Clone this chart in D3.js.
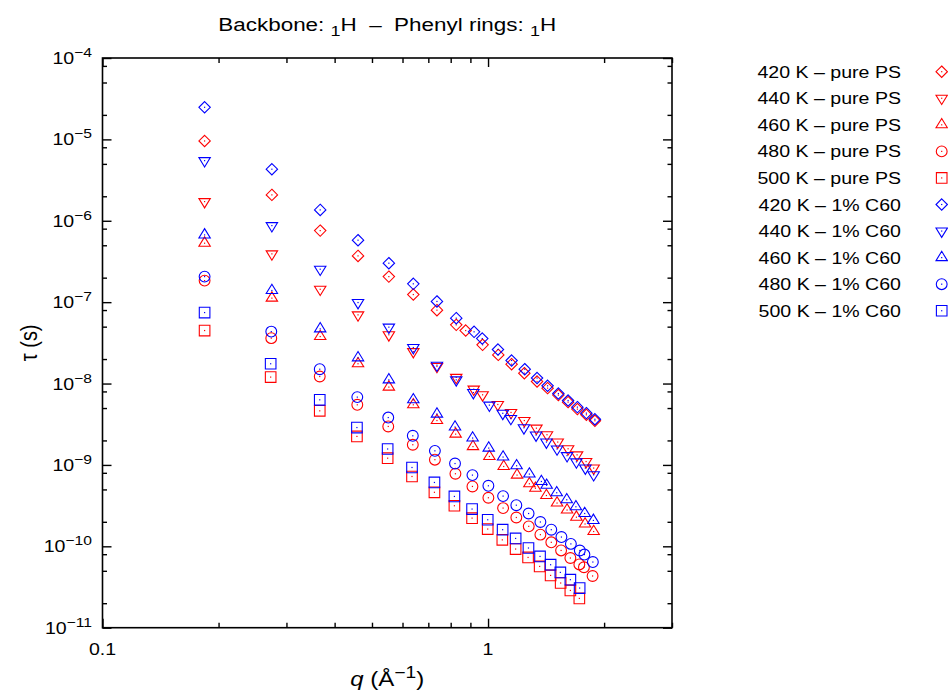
<!DOCTYPE html>
<html>
<head>
<meta charset="utf-8">
<script src="https://cdn.jsdelivr.net/npm/d3@7/dist/d3.min.js"></script>
<style>
  body { margin: 0; background: #fff; }
  text { font-family: "Liberation Sans", Arial, Helvetica, sans-serif; fill: #000; }
</style>
</head>
<body>
<div id="chart"></div>
<script>
// q (1/Å) and tau (s), one pair of arrays per data set
const q420PS = [0.184, 0.275, 0.367, 0.460, 0.553, 0.640, 0.737, 0.827, 0.875, 0.968, 1.063, 1.151, 1.242, 1.340, 1.427, 1.522, 1.613, 1.705, 1.799, 1.893];
const tau420PS = [9.56e-6, 2.08e-6, 7.57e-7, 3.70e-7, 2.06e-7, 1.24e-7, 7.97e-8, 5.26e-8, 4.48e-8, 2.99e-8, 2.25e-8, 1.73e-8, 1.34e-8, 1.06e-8, 8.78e-9, 7.21e-9, 5.91e-9, 4.85e-9, 4.13e-9, 3.49e-9];

const q440PS = [0.184, 0.275, 0.367, 0.460, 0.553, 0.640, 0.737, 0.827, 0.918, 0.968, 1.060, 1.147, 1.242, 1.335, 1.422, 1.516, 1.613, 1.702, 1.796, 1.879];
const tau440PS = [1.72e-6, 3.92e-7, 1.44e-7, 6.98e-8, 3.97e-8, 2.47e-8, 1.62e-8, 1.19e-8, 8.54e-9, 7.27e-9, 5.53e-9, 4.41e-9, 3.51e-9, 2.83e-9, 2.35e-9, 1.91e-9, 1.58e-9, 1.33e-9, 1.10e-9, 9.15e-10];

const q460PS = [0.184, 0.275, 0.367, 0.460, 0.553, 0.640, 0.737, 0.824, 0.914, 1.008, 1.098, 1.189, 1.280, 1.327, 1.417, 1.510, 1.603, 1.695, 1.785, 1.879];
const tau460PS = [5.30e-7, 1.12e-7, 3.78e-8, 1.75e-8, 9.04e-9, 5.48e-9, 3.51e-9, 2.39e-9, 1.68e-9, 1.27e-9, 9.57e-10, 7.50e-10, 5.87e-10, 5.17e-10, 4.21e-10, 3.40e-10, 2.79e-10, 2.28e-10, 1.88e-10, 1.52e-10];

const q480PS = [0.184, 0.274, 0.366, 0.458, 0.551, 0.638, 0.728, 0.823, 0.911, 1.002, 1.094, 1.184, 1.275, 1.367, 1.459, 1.547, 1.635, 1.725, 1.773, 1.867];
const tau480PS = [1.84e-7, 3.61e-8, 1.22e-8, 5.48e-9, 2.97e-9, 1.77e-9, 1.16e-9, 7.79e-10, 5.44e-10, 3.95e-10, 2.95e-10, 2.26e-10, 1.76e-10, 1.39e-10, 1.12e-10, 8.90e-11, 7.18e-11, 5.99e-11, 5.53e-11, 4.32e-11];

const q500PS = [0.184, 0.273, 0.366, 0.457, 0.549, 0.635, 0.726, 0.818, 0.909, 0.998, 1.089, 1.179, 1.270, 1.361, 1.453, 1.543, 1.635, 1.725];
const tau500PS = [4.48e-8, 1.20e-8, 4.62e-9, 2.24e-9, 1.21e-9, 7.21e-10, 4.61e-10, 3.15e-10, 2.22e-10, 1.63e-10, 1.20e-10, 9.26e-11, 7.30e-11, 5.66e-11, 4.39e-11, 3.54e-11, 2.87e-11, 2.29e-11];

const q420C60 = [0.184, 0.275, 0.367, 0.460, 0.553, 0.640, 0.737, 0.827, 0.920, 0.966, 1.061, 1.151, 1.245, 1.340, 1.427, 1.522, 1.613, 1.705, 1.799, 1.893];
const tau420C60 = [2.48e-5, 4.30e-6, 1.36e-6, 5.77e-7, 3.01e-7, 1.68e-7, 1.02e-7, 6.36e-8, 4.32e-8, 3.57e-8, 2.62e-8, 1.92e-8, 1.50e-8, 1.17e-8, 9.38e-9, 7.54e-9, 6.19e-9, 5.13e-9, 4.33e-9, 3.64e-9];

const q440C60 = [0.184, 0.275, 0.367, 0.460, 0.553, 0.640, 0.737, 0.827, 0.916, 1.008, 1.092, 1.146, 1.239, 1.332, 1.417, 1.510, 1.603, 1.695, 1.788, 1.879];
const tau440C60 = [5.48e-6, 8.72e-7, 2.54e-7, 9.89e-8, 4.93e-8, 2.77e-8, 1.68e-8, 1.11e-8, 7.75e-9, 5.43e-9, 4.31e-9, 3.72e-9, 2.86e-9, 2.33e-9, 1.91e-9, 1.57e-9, 1.30e-9, 1.09e-9, 9.15e-10, 7.57e-10];

const q460C60 = [0.184, 0.275, 0.367, 0.460, 0.553, 0.640, 0.737, 0.821, 0.912, 1.004, 1.094, 1.186, 1.280, 1.375, 1.419, 1.507, 1.600, 1.690, 1.781, 1.876];
const tau460C60 = [6.70e-7, 1.39e-7, 4.70e-8, 2.07e-8, 1.11e-8, 6.31e-9, 4.21e-9, 2.92e-9, 2.14e-9, 1.61e-9, 1.25e-9, 9.76e-10, 7.72e-10, 6.26e-10, 5.62e-10, 4.55e-10, 3.73e-10, 3.06e-10, 2.53e-10, 2.08e-10];

const q480C60 = [0.184, 0.274, 0.366, 0.458, 0.551, 0.638, 0.728, 0.821, 0.911, 1.002, 1.094, 1.184, 1.274, 1.367, 1.459, 1.550, 1.640, 1.730, 1.778, 1.870];
const tau480C60 = [2.06e-7, 4.35e-8, 1.50e-8, 6.81e-9, 3.82e-9, 2.28e-9, 1.49e-9, 1.04e-9, 7.50e-10, 5.54e-10, 4.14e-10, 3.20e-10, 2.53e-10, 1.99e-10, 1.60e-10, 1.30e-10, 1.07e-10, 8.88e-11, 7.92e-11, 6.41e-11];

const q500C60 = [0.184, 0.273, 0.366, 0.457, 0.549, 0.635, 0.726, 0.818, 0.909, 0.998, 1.091, 1.179, 1.273, 1.364, 1.453, 1.540, 1.635, 1.728];
const tau500C60 = [7.45e-8, 1.75e-8, 6.31e-9, 2.88e-9, 1.57e-9, 9.30e-10, 6.09e-10, 4.10e-10, 2.87e-10, 2.12e-10, 1.60e-10, 1.25e-10, 9.53e-11, 7.51e-11, 5.94e-11, 4.78e-11, 3.89e-11, 3.07e-11];

const legendLabels = [
  "420 K – pure PS", "440 K – pure PS", "460 K – pure PS", "480 K – pure PS", "500 K – pure PS",
  "420 K – 1% C60", "440 K – 1% C60", "460 K – 1% C60", "480 K – 1% C60", "500 K – 1% C60"
];
const xTickValues = [0.1, 1];
const yExponents = [-11, -10, -9, -8, -7, -6, -5, -4];

// Layout
const W = 948, H = 693;
const margin = { top: 58, right: 276, bottom: 65.3, left: 102.5 };
const width = W - margin.left - margin.right;
const height = H - margin.top - margin.bottom;
const SX = 1.2;   // text in the original is drawn wide
const FS = 16.3;

// marker shapes, centred on the data point
const shapes = {
  diamond: "M0,-5.7L5.7,0L0,5.7L-5.7,0Z",
  down: "M-5.7,-3L5.7,-3L0,6.3Z",
  up: "M0,-6.3L5.7,3L-5.7,3Z",
  circle: "M5.4,0A5.4,5.4 0 1,1 -5.4,0A5.4,5.4 0 1,1 5.4,0Z",
  square: "M-5.3,-5.3H5.3V5.3H-5.3Z"
};

const series = [
  { q: q420PS, tau: tau420PS, color: "#ff0000", shape: "diamond" },
  { q: q440PS, tau: tau440PS, color: "#ff0000", shape: "down" },
  { q: q460PS, tau: tau460PS, color: "#ff0000", shape: "up" },
  { q: q480PS, tau: tau480PS, color: "#ff0000", shape: "circle" },
  { q: q500PS, tau: tau500PS, color: "#ff0000", shape: "square" },
  { q: q420C60, tau: tau420C60, color: "#0000ff", shape: "diamond" },
  { q: q440C60, tau: tau440C60, color: "#0000ff", shape: "down" },
  { q: q460C60, tau: tau460C60, color: "#0000ff", shape: "up" },
  { q: q480C60, tau: tau480C60, color: "#0000ff", shape: "circle" },
  { q: q500C60, tau: tau500C60, color: "#0000ff", shape: "square" }
].map((s, i) => ({ ...s, label: legendLabels[i], points: s.q.map((v, j) => ({ q: v, tau: s.tau[j] })) }));

// Scales
const x = d3.scaleLog().domain([0.1, 3]).range([0, width]);
const y = d3.scaleLog().domain([1e-11, 1e-4]).range([height, 0]);

const svg = d3.select("#chart")
  .append("svg")
    .attr("width", W)
    .attr("height", H);

// text helper: stretched horizontally like the original
function addText(parent, px, py, anchor, size, extra) {
  return parent.append("text")
    .attr("transform", `translate(${px},${py}) scale(${SX},1)${extra || ""}`)
    .attr("text-anchor", anchor)
    .attr("xml:space", "preserve")
    .style("white-space", "pre")
    .style("font-size", size + "px");
}

// Title (a bit larger than the other text)
const TFS = 18.7;
const title = addText(svg, margin.left + width / 2, 31, "middle", TFS);
title.append("tspan").text("Backbone: ");
title.append("tspan").attr("dy", 4.5).style("font-size", (TFS * 0.8) + "px").text("1");
title.append("tspan").attr("dy", -4.5).text("H  –  Phenyl rings: ");
title.append("tspan").attr("dy", 4.5).style("font-size", (TFS * 0.8) + "px").text("1");
title.append("tspan").attr("dy", -4.5).text("H");

const chart = svg.append("g")
    .attr("transform", `translate(${margin.left},${margin.top})`);

// minor tick values
const xMinor = [];
[0.1, 1].forEach(d => { for (let k = 2; k <= 9; k++) if (d * k < 3.0001) xMinor.push(d * k); });
const yMinor = [];
yExponents.slice(0, -1).forEach(e => [2, 5, 8].forEach(k => yMinor.push(k * Math.pow(10, e))));

const tickStyle = g => {
  g.select(".domain").remove();
  g.selectAll("line").attr("stroke", "#000").attr("stroke-width", 1.4);
  g.selectAll("text").remove();
};

// ticks on all four sides, pointing inwards
chart.append("g").attr("transform", `translate(0,${height})`)
  .call(d3.axisBottom(x).tickValues(xTickValues).tickSize(-9).tickFormat("")).call(tickStyle);
chart.append("g").attr("transform", `translate(0,${height})`)
  .call(d3.axisBottom(x).tickValues(xMinor).tickSize(-5).tickFormat("")).call(tickStyle);
chart.append("g")
  .call(d3.axisTop(x).tickValues(xTickValues).tickSize(-9).tickFormat("")).call(tickStyle);
chart.append("g")
  .call(d3.axisTop(x).tickValues(xMinor).tickSize(-5).tickFormat("")).call(tickStyle);

const yMajor = yExponents.map(e => Math.pow(10, e));
chart.append("g")
  .call(d3.axisLeft(y).tickValues(yMajor).tickSize(-9).tickFormat("")).call(tickStyle);
chart.append("g")
  .call(d3.axisLeft(y).tickValues(yMinor).tickSize(-4.5).tickFormat("")).call(tickStyle);
chart.append("g").attr("transform", `translate(${width},0)`)
  .call(d3.axisRight(y).tickValues(yMajor).tickSize(-9).tickFormat("")).call(tickStyle);
chart.append("g").attr("transform", `translate(${width},0)`)
  .call(d3.axisRight(y).tickValues(yMinor).tickSize(-4.5).tickFormat("")).call(tickStyle);

// frame
chart.append("rect")
  .attr("width", width)
  .attr("height", height)
  .attr("fill", "none")
  .attr("stroke", "#000")
  .attr("stroke-width", 1.6);

// tick labels
xTickValues.forEach(v => {
  addText(chart, x(v), height + 27, "middle", FS).text(String(v));
});
yExponents.forEach(e => {
  const t = addText(chart, -10.5, y(Math.pow(10, e)) + 6, "end", FS);
  t.append("tspan").text("10");
  t.append("tspan").attr("dy", -7).style("font-size", (FS * 0.8) + "px").text("\u2212" + Math.abs(e));
});

// axis labels
const xl = addText(svg, margin.left + width / 2, 686, "middle", 20);
xl.append("tspan").style("font-style", "italic").text("q");
xl.append("tspan").text(" (Å");
xl.append("tspan").attr("dy", -8).style("font-size", "16px").text("\u22121");
xl.append("tspan").attr("dy", 8).text(")");

addText(svg, 37, margin.top + height / 2, "middle", 20, " rotate(-90)").text("τ (s)");

// data points
function drawMarker(g, shape, color) {
  g.append("path")
    .attr("d", shapes[shape])
    .attr("fill", "none")
    .attr("stroke", color)
    .attr("stroke-width", 1.1);
  g.append("rect")
    .attr("x", -0.6).attr("y", -0.6)
    .attr("width", 1.2).attr("height", 1.2)
    .attr("fill", color);
}

series.forEach(s => {
  chart.append("g")
    .selectAll("g")
    .data(s.points)
    .join("g")
      .attr("transform", d => `translate(${x(d.q)},${y(d.tau)})`)
      .each(function() { drawMarker(d3.select(this), s.shape, s.color); });
});

// legend
const legend = svg.append("g");
series.forEach((s, i) => {
  const ly = 71.7 + i * 26.56;
  addText(legend, 901, ly + 6, "end", FS).text(s.label);
  const m = legend.append("g").attr("transform", `translate(941.7,${ly})`);
  drawMarker(m, s.shape, s.color);
});
</script>
</body>
</html>
